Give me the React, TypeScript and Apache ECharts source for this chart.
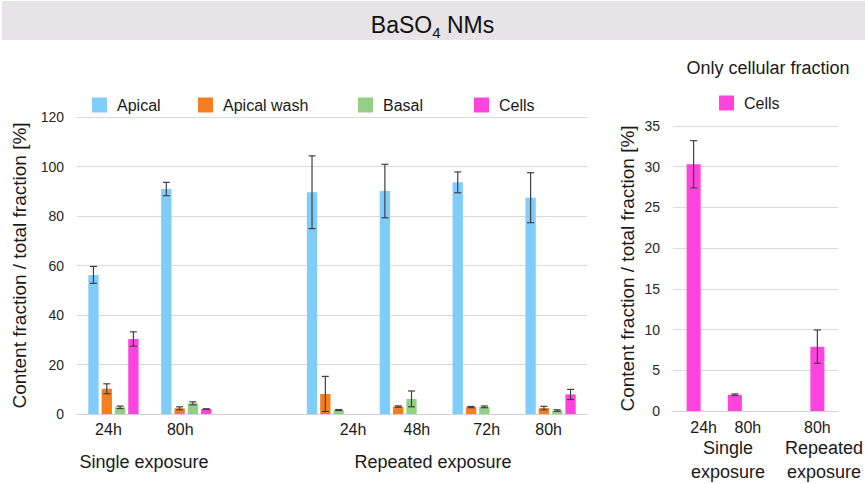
import React, { useEffect, useRef } from "react";
import * as echarts from "echarts";

// ---- data (left panel) ----
const leftCategories = ["24h", "80h", "", "24h", "48h", "72h", "80h"];
const leftLabelShift = [-5, -6, 0, 21, 12, 9, -2];
const apical = [56.2, 90.9, null, 89.6, 90.1, 93.6, 87.4];
const apicalErr = [3.4, 2.7, null, 14.7, 10.8, 4.2, 10.1];
const apicalWash = [10.2, 2.3, null, 8.1, 3.0, 2.8, 2.4];
const apicalWashErr = [2.0, 0.6, null, 7.1, 0.3, 0.25, 0.7];
const basal = [2.7, 4.3, null, 1.6, 6.1, 2.9, 1.4];
const basalErr = [0.5, 0.6, null, 0.2, 3.2, 0.35, 0.3];
const cells = [30.3, 2.0, null, null, null, null, 7.9];
const cellsErr = [2.9, 0.1, null, null, null, null, 2.05];

// ---- data (right panel) ----
const rightCategories = ["24h", "80h", "", "80h"];
const rightLabelShift = [10, 13, 0, 0];
const cellsOnly = [30.3, 2.0, null, 7.9];
const cellsOnlyErr = [2.9, 0.1, null, 2.05];

const leftTicks = { min: 0, max: 120, interval: 20 };
const rightTicks = { min: 0, max: 35, interval: 5 };

const FONT = "'Liberation Sans', Arial, sans-serif";
const COLORS = {
  Apical: "#80ccfa",
  "Apical wash": "#f57f20",
  Basal: "#93d086",
  Cells: "#ff44dd",
};
const ERR_COLOR = "#404040";
const LEFT_CAT_GAP = 0.31;
const LEFT_BAR_GAP = 0.29;
const RIGHT_CAT_GAP = 0.66;

function richShift(shifts: number[], fontSize: number) {
  const rich: Record<string, any> = {};
  shifts.forEach((d, i) => {
    rich["l" + i] = {
      fontSize,
      fontFamily: FONT,
      color: "#1a1a1a",
      padding: d >= 0 ? [0, 0, 0, 2 * d] : [0, -2 * d, 0, 0],
    };
  });
  return rich;
}

function errSeries(
  name: string,
  values: (number | null)[],
  errs: (number | null)[],
  slot: number,
  nBars: number,
  catGap: number,
  barGap: number,
  axisIdx: number
) {
  const data = values
    .map((v, i) => (v == null ? null : [i, v, errs[i] ?? 0]))
    .filter((d) => d !== null);
  return {
    type: "custom",
    name: name + " err",
    xAxisIndex: axisIdx,
    yAxisIndex: axisIdx,
    z: 10,
    silent: true,
    encode: { x: 0, y: 1 },
    data,
    renderItem: (params: any, api: any) => {
      const i = api.value(0);
      const v = api.value(1);
      const e = api.value(2);
      const band = api.size([1, 0])[0];
      const w = (band * (1 - catGap)) / (nBars + (nBars - 1) * barGap);
      const g = w * barGap;
      const groupW = nBars * w + (nBars - 1) * g;
      const c = api.coord([i, v]);
      const x = c[0] - groupW / 2 + slot * (w + g) + w / 2;
      const top = api.coord([i, v + e])[1];
      const bot = api.coord([i, Math.max(v - e, 0)])[1];
      const half = 3.5;
      const style = { stroke: ERR_COLOR, lineWidth: 1.2 };
      return {
        type: "group",
        children: [
          { type: "line", shape: { x1: x, y1: top, x2: x, y2: bot }, style },
          { type: "line", shape: { x1: x - half, y1: top, x2: x + half, y2: top }, style },
          { type: "line", shape: { x1: x - half, y1: bot, x2: x + half, y2: bot }, style },
        ],
      };
    },
  };
}

export default function App() {
  const ref = useRef<HTMLDivElement>(null);

  useEffect(() => {
    document.body.style.margin = "0";
    if (!ref.current) return;
    const chart = echarts.init(ref.current, null, { renderer: "svg" });

    const leftSeriesDefs: [string, (number | null)[], (number | null)[]][] = [
      ["Apical", apical, apicalErr],
      ["Apical wash", apicalWash, apicalWashErr],
      ["Basal", basal, basalErr],
      ["Cells", cells, cellsErr],
    ];

    const series: any[] = [];
    leftSeriesDefs.forEach(([name, vals]) => {
      series.push({
        type: "bar",
        name,
        xAxisIndex: 0,
        yAxisIndex: 0,
        data: vals,
        itemStyle: { color: (COLORS as any)[name] },
        barGap: LEFT_BAR_GAP * 100 + "%",
        barCategoryGap: LEFT_CAT_GAP * 100 + "%",
      });
    });
    leftSeriesDefs.forEach(([name, vals, errs], idx) => {
      series.push(errSeries(name, vals, errs, idx, 4, LEFT_CAT_GAP, LEFT_BAR_GAP, 0));
    });
    series.push({
      type: "bar",
      name: "Cells ",
      xAxisIndex: 1,
      yAxisIndex: 1,
      data: cellsOnly,
      itemStyle: { color: COLORS.Cells },
      barCategoryGap: RIGHT_CAT_GAP * 100 + "%",
    });
    series.push(errSeries("Cells only", cellsOnly, cellsOnlyErr, 0, 1, RIGHT_CAT_GAP, 0, 1));

    const legendBase = {
      icon: "rect",
      itemWidth: 15,
      itemHeight: 15,
      padding: 0,
      top: 97,
      textStyle: { fontSize: 16, fontFamily: FONT, color: "#1a1a1a", padding: [0, 0, 0, 5] },
      selectedMode: false,
    };

    const yName = "Content fraction / total fraction [%]";

    const option: any = {
      animation: false,
      backgroundColor: "#ffffff",
      title: [
        {
          text: "{a|BaSO}{b|4}{a| NMs}",
          left: "center",
          top: 5,
          textStyle: {
            fontWeight: "normal",
            rich: {
              a: { fontSize: 23, fontWeight: "normal", fontFamily: FONT, color: "#111", lineHeight: 30, verticalAlign: "middle" },
              b: { fontSize: 15, fontWeight: "normal", fontFamily: FONT, color: "#111", lineHeight: 15, verticalAlign: "bottom" },
            },
          },
        },
      ],
      graphic: [
        {
          type: "rect",
          z: -10,
          shape: { x: 2, y: 1, width: 863, height: 39 },
          style: { fill: "#e6e4e6" },
        },
        {
          type: "text",
          x: 768,
          y: 68,
          style: { text: "Only cellular fraction", fontSize: 18, fontFamily: FONT, fill: "#1a1a1a", align: "center", verticalAlign: "middle" },
        },
        {
          type: "text",
          x: 144,
          y: 462,
          style: { text: "Single exposure", fontSize: 18, fontFamily: FONT, fill: "#1a1a1a", align: "center", verticalAlign: "middle" },
        },
        {
          type: "text",
          x: 433,
          y: 462,
          style: { text: "Repeated exposure", fontSize: 18, fontFamily: FONT, fill: "#1a1a1a", align: "center", verticalAlign: "middle" },
        },
        {
          type: "text",
          x: 728,
          y: 460,
          style: { text: "Single\nexposure", fontSize: 18, lineHeight: 24, fontFamily: FONT, fill: "#1a1a1a", align: "center", verticalAlign: "middle" },
        },
        {
          type: "text",
          x: 824,
          y: 460,
          style: { text: "Repeated\nexposure", fontSize: 18, lineHeight: 24, fontFamily: FONT, fill: "#1a1a1a", align: "center", verticalAlign: "middle" },
        },
      ],
      legend: [
        { ...legendBase, left: 92, data: ["Apical"] },
        { ...legendBase, left: 198, data: ["Apical wash"] },
        { ...legendBase, left: 358, data: ["Basal"] },
        { ...legendBase, left: 474, data: ["Cells"] },
        { ...legendBase, left: 719, top: 95, data: ["Cells "] },
      ],
      grid: [
        { left: 77, right: 278, top: 117, bottom: 70 },
        { left: 673, right: 27, top: 126, bottom: 73 },
      ],
      xAxis: [
        {
          type: "category",
          gridIndex: 0,
          data: leftCategories,
          axisTick: { show: false },
          axisLine: { lineStyle: { color: "#d0d0d0" } },
          axisLabel: {
            margin: 7,
            interval: 0,
            formatter: (v: string, i: number) => (v ? `{l${i}|${v}}` : ""),
            rich: richShift(leftLabelShift, 16),
          },
        },
        {
          type: "category",
          gridIndex: 1,
          data: rightCategories,
          axisTick: { show: false },
          axisLine: { lineStyle: { color: "#d0d0d0" } },
          axisLabel: {
            margin: 8,
            interval: 0,
            formatter: (v: string, i: number) => (v ? `{l${i}|${v}}` : ""),
            rich: richShift(rightLabelShift, 16),
          },
        },
      ],
      yAxis: [
        {
          type: "value",
          gridIndex: 0,
          ...leftTicks,
          axisLine: { show: false },
          axisTick: { show: false },
          splitLine: { lineStyle: { color: "#d9d9d9" } },
          axisLabel: { fontSize: 14, fontFamily: FONT, color: "#262626", margin: 13 },
          name: yName,
          nameLocation: "middle",
          nameGap: 48,
          nameTextStyle: { fontSize: 19, fontFamily: FONT, color: "#1a1a1a" },
        },
        {
          type: "value",
          gridIndex: 1,
          ...rightTicks,
          axisLine: { show: false },
          axisTick: { show: false },
          splitLine: { lineStyle: { color: "#d9d9d9" } },
          axisLabel: { fontSize: 14, fontFamily: FONT, color: "#262626", margin: 13 },
          name: yName,
          nameLocation: "middle",
          nameGap: 36,
          nameTextStyle: { fontSize: 19, fontFamily: FONT, color: "#1a1a1a" },
        },
      ],
      series,
    };

    chart.setOption(option);
    return () => chart.dispose();
  }, []);

  return (
    <div
      ref={ref}
      style={{ position: "absolute", left: 0, top: 0, width: 865, height: 484, background: "#fff" }}
    />
  );
}
